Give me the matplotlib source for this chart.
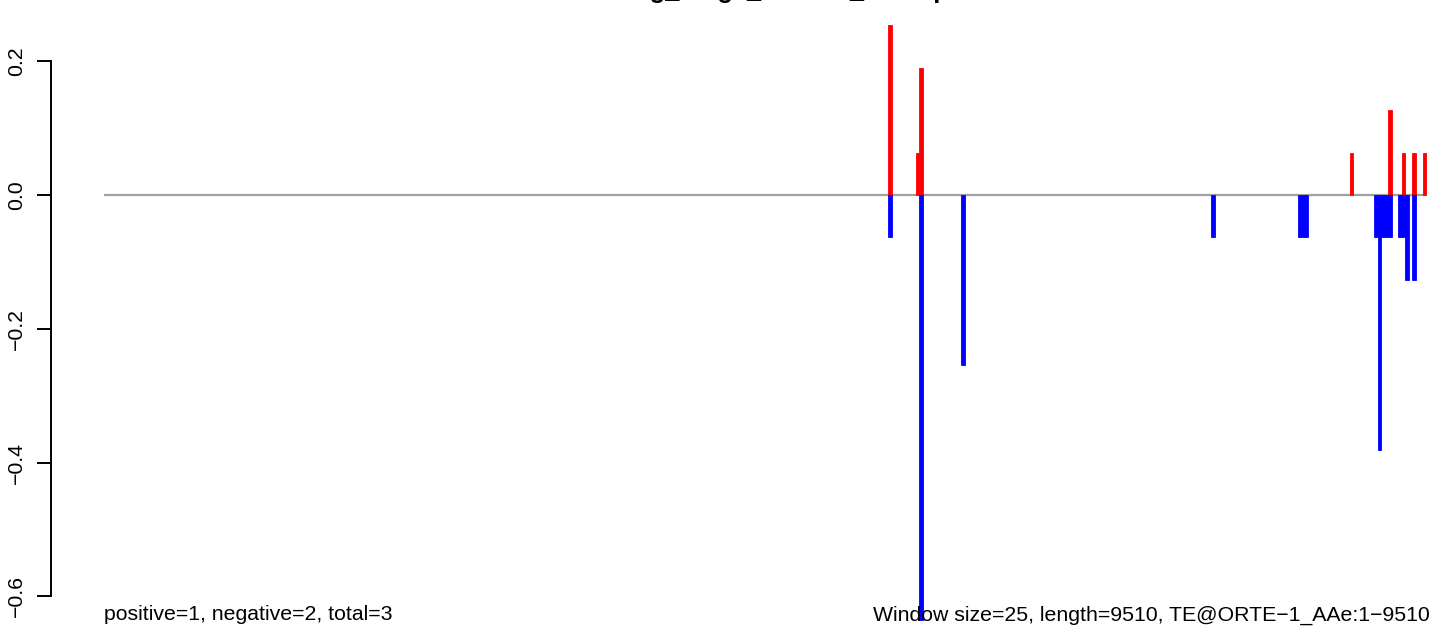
import matplotlib
matplotlib.use("Agg")
import matplotlib.pyplot as plt
from matplotlib.patches import Rectangle
from matplotlib.transforms import offset_copy

# ---- data -------------------------------------------------------------
window_size = 25
seq_length = 9510
title_text = "Testing_lungs_ovaries_TEmap"
left_note = "positive=1, negative=2, total=3"
right_note = "Window size=25, length=9510, TE@ORTE\u22121_AAe:1\u22129510"

# window index (0-based) and signal value for sense (red) windows
pos_windows = [226, 234, 235, 359, 370, 374, 377, 380]
pos_values = [0.254, 0.0635, 0.1905, 0.0635, 0.127, 0.0635, 0.0635, 0.0635]

# window index (0-based) and signal value for antisense (blue) windows
neg_windows = [226, 235, 247, 319, 344, 345, 346, 366, 367, 368, 369, 370,
               373, 374, 375, 377]
neg_values = [-0.0635, -0.635, -0.254, -0.0635, -0.0635, -0.0635, -0.0635,
              -0.0635, -0.381, -0.0635, -0.0635, -0.0635, -0.0635, -0.0635,
              -0.127, -0.127]

yticks = [-0.6, -0.4, -0.2, 0.0, 0.2]
ytick_labels = ["\u22120.6", "\u22120.4", "\u22120.2", "0.0", "0.2"]

# ---- figure -----------------------------------------------------------
plt.rcParams['font.family'] = ['Liberation Sans', 'DejaVu Sans']
W, H = 1444, 634
fig = plt.figure(figsize=(W / 100, H / 100), dpi=100)
fig.patch.set_facecolor('white')

# plot region (partly outside the cropped image, like the reference)
left_px, right_px, top_px, bot_px = 51, 1477, 1.3, 643.5
ax = fig.add_axes([left_px / W, (H - bot_px) / H,
                   (right_px - left_px) / W, (bot_px - top_px) / H])
ax.set_facecolor('white')

x0, x1 = 1, seq_length
pad_x = 0.04 * (x1 - x0)
ax.set_xlim(x0 - pad_x, x1 + pad_x)
ymin = min(neg_values)
ymax = max(pos_values)
pad_y = 0.04 * (ymax - ymin)
ax.set_ylim(ymin - pad_y, ymax + pad_y)

# zero line
ax.plot([x0, x1], [0, 0], color='#a0a0a0', lw=1.6, zorder=1,
        solid_capstyle='butt')

for w, v in zip(pos_windows, pos_values):
    ax.add_patch(Rectangle((w * window_size, 0), window_size, v,
                           facecolor='#ff0000', edgecolor='#ff0000',
                           lw=0.6, zorder=2))
for w, v in zip(neg_windows, neg_values):
    ax.add_patch(Rectangle((w * window_size, 0), window_size, v,
                           facecolor='#0000ff', edgecolor='#0000ff',
                           lw=0.6, zorder=2))

# axes styling (R base-graphics look)
for s in ['top', 'right', 'bottom']:
    ax.spines[s].set_visible(False)
ax.spines['left'].set_bounds(yticks[0], yticks[-1])
ax.spines['left'].set_linewidth(1.4)
ax.set_xticks([])
ax.set_yticks(yticks)
ax.set_yticklabels(ytick_labels, rotation=90, va='center', fontsize=15.3)
ax.tick_params(axis='y', length=10, width=1.4, pad=8, colors='black')

# bottom notes
ax.text(x0, -0.636, left_note, ha='left', va='baseline', fontsize=15.3)
tr_right = offset_copy(ax.transData, fig=fig, x=6, y=0, units='dots')
ax.text(x1, -0.636, right_note, ha='right', va='baseline', fontsize=15.3,
        transform=tr_right)

# title (clipped at the top edge as in the reference)
fig.text(764 / W, 1 + 2 / H, title_text, ha='center', va='baseline',
         fontsize=18.3, fontweight='bold')

fig.savefig('out.png', dpi=100)
